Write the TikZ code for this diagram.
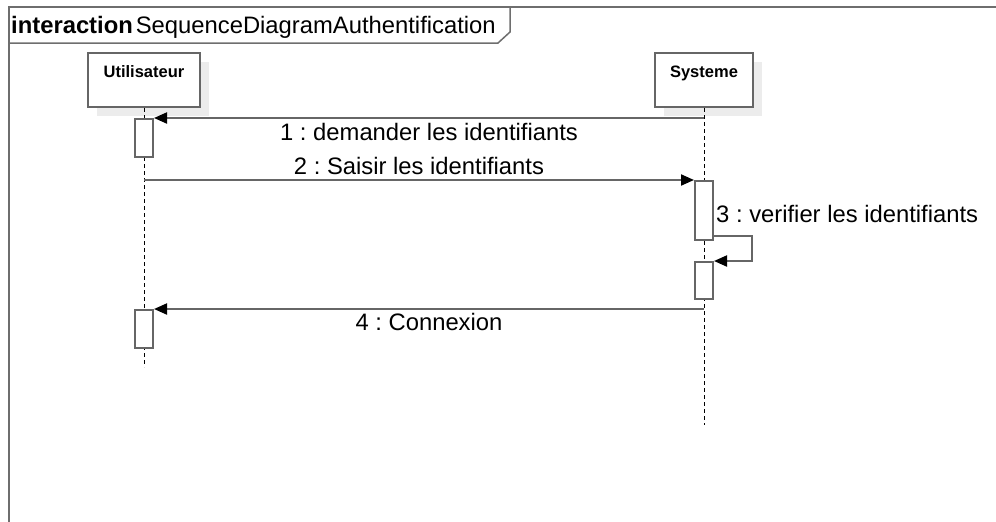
\documentclass[tikz,border=0pt]{standalone}
\usepackage{fontspec}
\setmainfont{Liberation Sans}
\usetikzlibrary{arrows.meta,shadows}
\frenchspacing
\definecolor{linegray}{RGB}{102,102,102}
\definecolor{framegray}{RGB}{110,110,110}
\definecolor{shadowgray}{RGB}{236,236,236}
\begin{document}
\begin{tikzpicture}[x=1pt,y=-1pt,
  frameline/.style={draw=framegray, line width=1.5pt},
  headbox/.style={draw=linegray, line width=2pt, fill=white, inner sep=0pt,
    minimum height=54pt,
    general shadow={fill=shadowgray, shadow xshift=9pt, shadow yshift=-9pt}},
  headlabel/.style={anchor=base, inner sep=0pt, font=\fontsize{16.5}{19}\selectfont\bfseries},
  lifeline/.style={draw=black, line width=0.9pt, dash pattern=on 4pt off 3pt},
  act/.style={draw=linegray, line width=2pt, fill=white, inner sep=0pt, minimum width=18pt},
  msg/.style={draw=linegray, line width=2pt, -{Triangle[length=13pt,width=11pt,black]}},
  msglabel/.style={anchor=base, inner sep=0pt, font=\fontsize{23.8}{28}\selectfont},
]
\useasboundingbox (0,0) rectangle (996,522);

% interaction frame and its name tag
\draw[frameline] (996,7) -- (9,7) -- (9,522);
\draw[frameline] (9,43) -- (498,43) -- (510,32) -- (510,7);
\node[anchor=base west, inner sep=0pt, font=\fontsize{23.8}{28}\selectfont] (title) at (11,33)
  {\textbf{interaction}\hspace{3pt}SequenceDiagramAuthentification};

% lifeline heads
\node[headbox, minimum width=112pt] (user) at (144,80) {};
\node[headlabel] (userlbl) at (144,77) {Utilisateur};
\node[headbox, minimum width=98pt] (sys) at (704,80) {};
\node[headlabel] (syslbl) at (704,77) {Systeme};

% lifelines
\coordinate (userend) at (144,367);
\coordinate (sysend) at (704,425);
\draw[lifeline] (user.south) -- (userend);
\draw[lifeline] (sys.south) -- (sysend);

% activation bars
\node[act, minimum height=38pt] (a1) at (144,138) {};
\node[act, minimum height=59pt] (a2) at (704,210.5) {};
\node[act, minimum height=37pt] (a3) at (704,280.5) {};
\node[act, minimum height=38pt] (a4) at (144,329) {};

% messages
\coordinate (m1src) at (sys |- a1.north);
\draw[msg] (m1src) -- node[msglabel, pos=0.5, yshift=-22.5pt] (m1lbl) {1 : demander les identifiants} (a1.north east);

\coordinate (m2src) at (user |- a2.north);
\draw[msg] (m2src) -- node[msglabel, pos=0.5, yshift=6pt] (m2lbl) {2 : Saisir les identifiants} (a2.north west);

\coordinate (m3out) at (a2.east |- 0,236);
\coordinate (m3turn) at (752,236);
\draw[msg] (m3out) -- (m3turn) -- (m3turn |- a3.north) -- (a3.north east);
\node[msglabel, anchor=base west] (m3lbl) at (716,222) {3 : verifier les identifiants};

\coordinate (m4src) at (sys |- a4.north);
\draw[msg] (m4src) -- node[msglabel, pos=0.5, yshift=-21.5pt] (m4lbl) {4 : Connexion} (a4.north east);
\end{tikzpicture}
\end{document}
